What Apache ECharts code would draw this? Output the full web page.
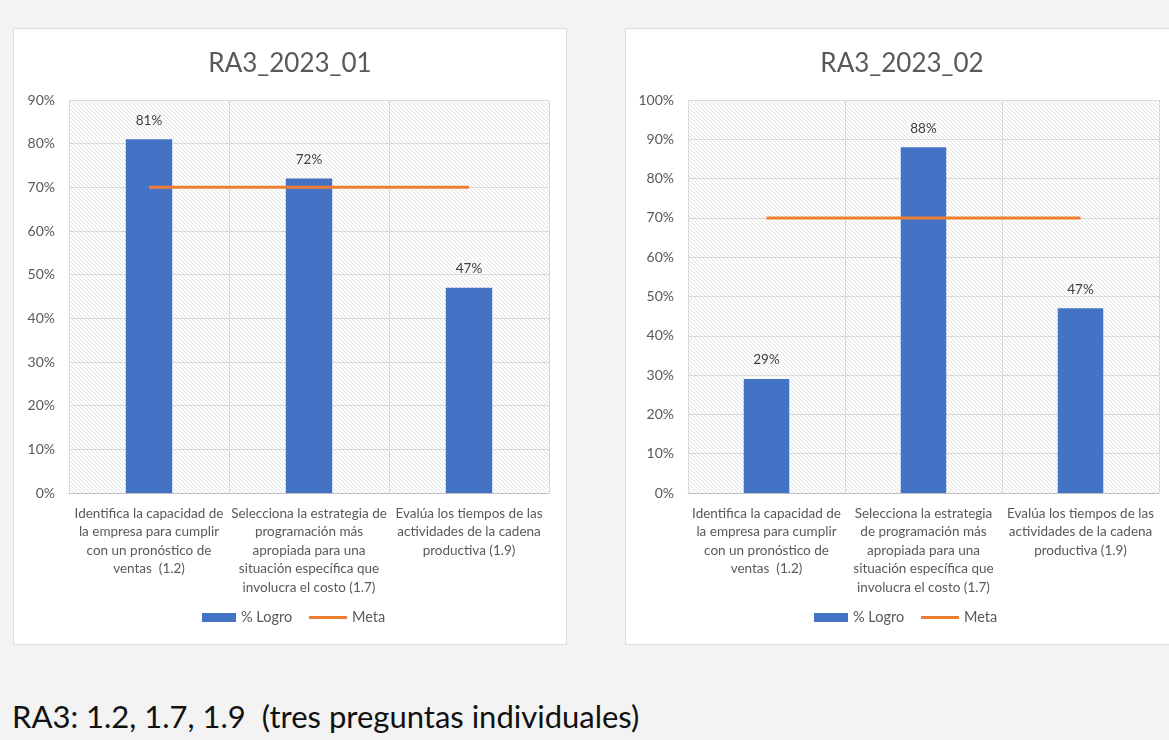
<!DOCTYPE html>
<html>
<head>
<meta charset="utf-8">
<script src="https://cdn.jsdelivr.net/npm/echarts@6/dist/echarts.min.js"></script>
<style>
  html, body { margin: 0; padding: 0; width: 1169px; height: 740px; overflow: hidden; background: #f3f3f3; font-family: Lato, "Open Sans", sans-serif; }
  .panel { position: absolute; top: 28px; width: 554px; height: 617px; background: #fff; border: 1px solid #dcdcdc; box-sizing: border-box; }
  #chart-01 { left: 13px; }
  #chart-02 { left: 625px; }
  #caption { position: absolute; left: 12px; top: 697px; font-size: 31px; color: #111; white-space: pre; }
</style>
</head>
<body>
<div id="chart-01" class="panel"></div>
<div id="chart-02" class="panel"></div>
<div id="caption">RA3: 1.2, 1.7, 1.9  (tres preguntas individuales)</div>
<script>
// categorias de cada grafico (los saltos de linea son como en la imagen)
const categories01 = [
  'Identifica la capacidad de\nla empresa para cumplir\ncon un pronóstico de\nventas  (1.2)',
  'Selecciona la estrategia de\nprogramación más\napropiada para una\nsituación específica que\ninvolucra el costo (1.7)',
  'Evalúa los tiempos de las\nactividades de la cadena\nproductiva (1.9)'
]
const categories02 = [
  'Identifica la capacidad de\nla empresa para cumplir\ncon un pronóstico de\nventas  (1.2)',
  'Selecciona la estrategia\nde programación más\napropiada para una\nsituación específica que\ninvolucra el costo (1.7)',
  'Evalúa los tiempos de las\nactividades de la cadena\nproductiva (1.9)'
]
const logro01 = [0.81, 0.72, 0.47]
const logro02 = [0.29, 0.88, 0.47]
const meta01 = [0.70, 0.70, 0.70]
const meta02 = [0.70, 0.70, 0.70]
const titles = ['RA3_2023_01', 'RA3_2023_02']
const axisMax = [0.9, 1.0]

// trama diagonal del fondo del area de trazado
function hatch () {
  const c = document.createElement('canvas')
  c.width = 4
  c.height = 4
  const ctx = c.getContext('2d')
  ctx.strokeStyle = 'rgba(0,0,0,0.12)'
  ctx.lineWidth = 1
  for (const k of [-4, 0, 4]) {
    ctx.beginPath()
    ctx.moveTo(k, 0)
    ctx.lineTo(k + 4, 4)
    ctx.stroke()
  }
  return { image: c, repeat: 'repeat' }
}

const pct = v => Math.round(v * 100) + '%'

function drawChart (id, title, cats, logro, meta, max, gridLeft, gridWidth) {
  const myChart = echarts.init(document.getElementById(id))
  const legendText = { fontSize: 14.5, color: '#595959' }
  const option = {
    animation: false,
    textStyle: { fontFamily: 'Lato' },
    title: {
      text: title,
      left: 'center',
      top: 17,
      textStyle: { fontSize: 26, fontWeight: 'normal', color: '#595959' }
    },
    legend: [
      {
        left: 183,
        bottom: 14,
        itemWidth: 34,
        itemHeight: 9,
        textStyle: legendText,
        data: [{ name: '% Logro', icon: 'rect' }]
      },
      {
        left: 290,
        bottom: 14,
        itemWidth: 38,
        itemHeight: 3,
        textStyle: legendText,
        data: [{ name: 'Meta', icon: 'rect' }]
      }
    ],
    grid: {
      left: gridLeft,
      top: 71,
      width: gridWidth,
      height: 393,
      show: true,
      borderWidth: 0,
      backgroundColor: hatch()
    },
    xAxis: {
      type: 'category',
      data: cats,
      axisTick: { show: false },
      axisLine: { lineStyle: { color: '#bfbfbf' } },
      splitLine: { show: true, interval: 0, lineStyle: { color: '#d9d9d9' } },
      axisLabel: { interval: 0, margin: 11, fontSize: 13.5, lineHeight: 18.5, color: '#595959' }
    },
    yAxis: {
      type: 'value',
      min: 0,
      max: max,
      interval: 0.1,
      axisLine: { show: false },
      axisTick: { show: false },
      splitLine: { lineStyle: { color: '#d9d9d9' } },
      axisLabel: { margin: 14, fontSize: 14, color: '#595959', formatter: pct }
    },
    series: [
      {
        name: '% Logro',
        type: 'bar',
        barWidth: '29%',
        itemStyle: { color: '#4472c4' },
        label: {
          show: true,
          position: 'top',
          distance: 12,
          fontSize: 13.5,
          color: '#404040',
          formatter: p => pct(p.value)
        },
        data: logro
      },
      {
        name: 'Meta',
        type: 'line',
        symbol: 'none',
        lineStyle: { color: '#ed7d31', width: 3 },
        itemStyle: { color: '#ed7d31' },
        data: meta
      }
    ]
  }
  myChart.setOption(option)
}

drawChart('chart-01', titles[0], categories01, logro01, meta01, axisMax[0], 55, 480)
drawChart('chart-02', titles[1], categories02, logro02, meta02, axisMax[1], 62, 471)
</script>
</body>
</html>
